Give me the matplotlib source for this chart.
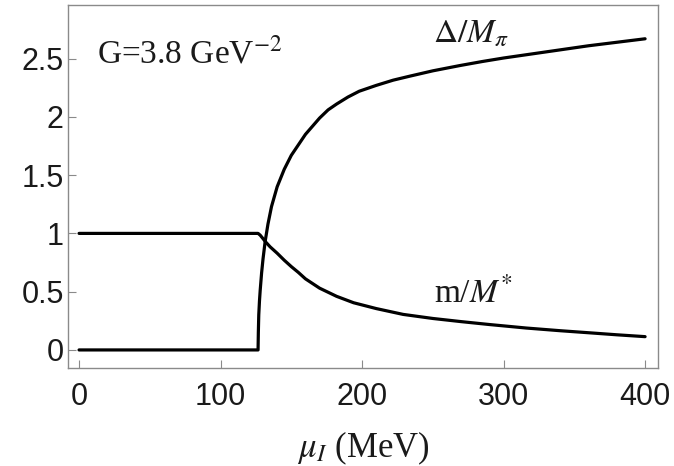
import matplotlib
matplotlib.use("Agg")
import matplotlib.pyplot as plt

# Isospin chemical potential (MeV) and normalised pion condensate
mu_delta = [0, 126.5, 126.7, 127.0, 127.5, 128.0, 129.0, 130.0, 131.5, 133.5,
            136.0, 140.0, 145.0, 150.0, 155.0, 160.0, 165.0, 170.0, 176.0,
            182.0, 190.0, 198.0, 210.0, 222.0, 234.0, 250.0, 269.0, 285.0,
            300.0, 320.0, 340.0, 360.0, 380.0, 400.0]
delta_over_mpi = [0.0, 0.0, 0.15, 0.30, 0.42, 0.51, 0.66, 0.78, 0.93, 1.08,
                  1.23, 1.40, 1.55, 1.67, 1.76, 1.85, 1.92, 1.99, 2.06,
                  2.11, 2.17, 2.22, 2.27, 2.315, 2.35, 2.395, 2.44, 2.475,
                  2.505, 2.54, 2.575, 2.61, 2.64, 2.67]

# Normalised constituent quark mass
mu_mass = [0, 126.5, 128.0, 130.0, 132.0, 135.0, 140.0, 145.0, 150.0, 155.0,
           160.0, 170.0, 182.0, 194.0, 210.0, 229.0, 250.0, 270.0, 290.0,
           316.0, 340.0, 363.0, 380.0, 400.0]
m_over_mstar = [1.0, 1.0, 0.985, 0.955, 0.925, 0.885, 0.83, 0.77, 0.715, 0.665,
                0.61, 0.53, 0.46, 0.405, 0.355, 0.305, 0.27, 0.243, 0.218,
                0.188, 0.165, 0.145, 0.13, 0.114]

x_ticks = [0, 100, 200, 300, 400]
y_ticks = [0, 0.5, 1, 1.5, 2, 2.5]
y_tick_labels = ["0", "0.5", "1", "1.5", "2", "2.5"]

plt.rcParams["mathtext.fontset"] = "stix"

fig = plt.figure(figsize=(6.74, 4.66), dpi=100)
ax = fig.add_axes([0.1009, 0.2103, 0.8751, 0.7790])

ax.plot(mu_delta, delta_over_mpi, color="black", lw=2.3,
        solid_joinstyle="round", solid_capstyle="round")
ax.plot(mu_mass, m_over_mstar, color="black", lw=2.3,
        solid_joinstyle="round", solid_capstyle="round")

ax.set_xlim(-7.8, 409)
ax.set_ylim(-0.155, 2.96)
ax.set_xticks(x_ticks)
ax.set_yticks(y_ticks)
ax.set_yticklabels(y_tick_labels)

frame_col = "#8a8a8a"
for s in ax.spines.values():
    s.set_color(frame_col)
    s.set_linewidth(1.0)
ax.tick_params(direction="in", length=6, width=0.8, color=frame_col,
               labelsize=22, labelcolor="#1a1a1a")
ax.tick_params(axis="x", pad=10)
ax.tick_params(axis="y", pad=3)
for lab in ax.get_xticklabels() + ax.get_yticklabels():
    lab.set_family("Liberation Sans")

ax.set_xlabel(r"$\mu_{I}$ (MeV)", fontsize=25, family="Liberation Serif",
              color="#1a1a1a", labelpad=13)

ax.text(12.7, 2.46, r"G=3.8 GeV$^{-2}$", fontsize=24, family="Liberation Serif",
        color="#1a1a1a", ha="left", va="baseline")
ax.text(277, 2.72, r"$\Delta/M_\pi$", fontsize=24, family="Liberation Serif",
        color="#1a1a1a", ha="center", va="center")
ax.text(278.5, 0.49, r"m/$M^{*}$", fontsize=24, family="Liberation Serif",
        color="#1a1a1a", ha="center", va="center")

fig.savefig("out.png", dpi=100)
